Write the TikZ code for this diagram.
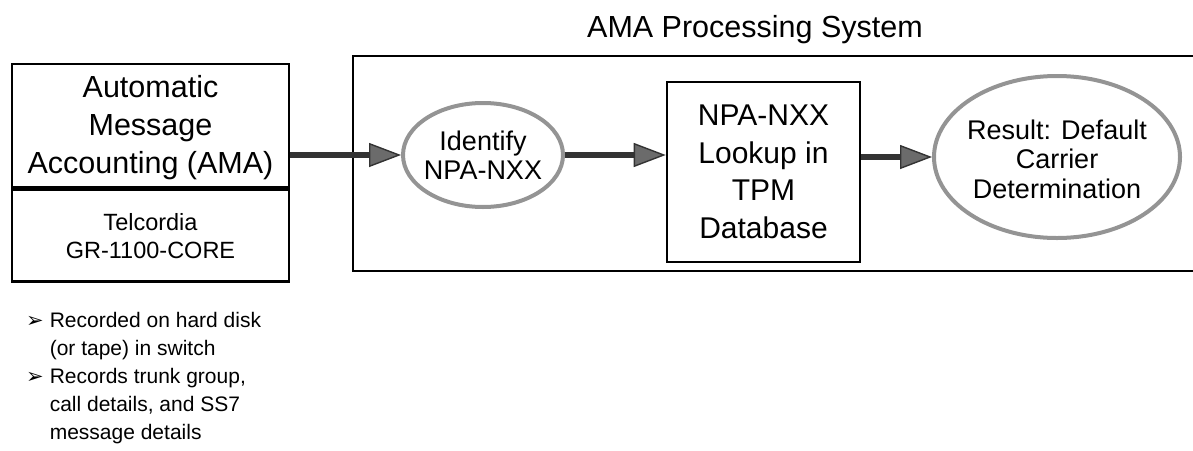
\documentclass[tikz,border=0pt]{standalone}
\usepackage{fontspec}
\setmainfont{Liberation Sans}
\newfontfamily\symfont{DejaVu Sans}
\usetikzlibrary{shapes.geometric,arrows.meta}

\begin{document}
\begin{tikzpicture}[x=1pt,y=-1pt,
  box/.style={draw=black, line width=2.6pt, inner sep=0pt},
  oval/.style={ellipse, draw=black!42, line width=4pt, inner sep=0pt},
  caption/.style={align=center, inner sep=0pt},
  flow/.style={line width=6pt, draw=black!80,
    -{Triangle[length=32pt,width=24pt,line width=1.4pt,fill=black!58]}},
]
\useasboundingbox (0,0) rectangle (1193,450);

% system title and its frame (open to the right)
\node[font=\fontsize{30.5}{36}\selectfont, anchor=base, inner sep=0pt] (title) at (755,37) {AMA Processing System};
\draw[line width=2.6pt] (1193,56) -- (353,56) -- (353,271) -- (1193,271);

% AMA source box
\node[box, minimum width=277pt, minimum height=123pt, align=center,
      font=\fontsize{30.5}{38}\selectfont] (amatop) at (150.5,125.5) {};
\node[caption, font=\fontsize{30.5}{38}\selectfont] (amatxt) at (150.5,127.5)
      {Automatic\\Message\\Accounting (AMA)};
\node[box, minimum width=277pt, minimum height=92pt, anchor=north, align=center,
      font=\fontsize{23.5}{28}\selectfont] (amabot) at (amatop.south)
      {Telcordia\\GR-1100-CORE};

% processing steps
\node[oval, minimum width=160pt, minimum height=104pt] (ident) at (483,155) {};
\node[caption, font=\fontsize{27}{28.5}\selectfont] (identtxt) at (ident) {Identify\\NPA-NXX};

\node[box, minimum width=193pt, minimum height=180pt, align=center,
      font=\fontsize{30}{37.5}\selectfont] (npa) at (763.5,172)
      {NPA-NXX\\Lookup in\\TPM\\Database};

\node[oval, minimum width=246pt, minimum height=162pt] (res) at (1057,157) {};
\node[caption, font=\fontsize{27}{29.5}\selectfont] (restxt) at (1057,159)
      {Result: Default\\Carrier\\Determination};

% flow arrows
\draw[flow] (ident.west -| amatop.east) -- (ident.west);
\draw[flow] (ident.east) -- (ident.east -| npa.west);
\draw[flow] (npa.east |- res.west) -- (res.west);

% notes under the AMA box
\node[anchor=north west, inner sep=0pt, font=\fontsize{21}{28}\selectfont] (notes) at (26,308)
{\begin{tabular}{@{}l@{\hspace{6pt}}l@{}}
{\symfont\fontsize{21}{28}\selectfont ➢} & Recorded on hard disk\\
 & (or tape) in switch\\
{\symfont\fontsize{21}{28}\selectfont ➢} & Records trunk group,\\
 & call details, and SS7\\
 & message details
\end{tabular}};
\end{tikzpicture}
\end{document}
